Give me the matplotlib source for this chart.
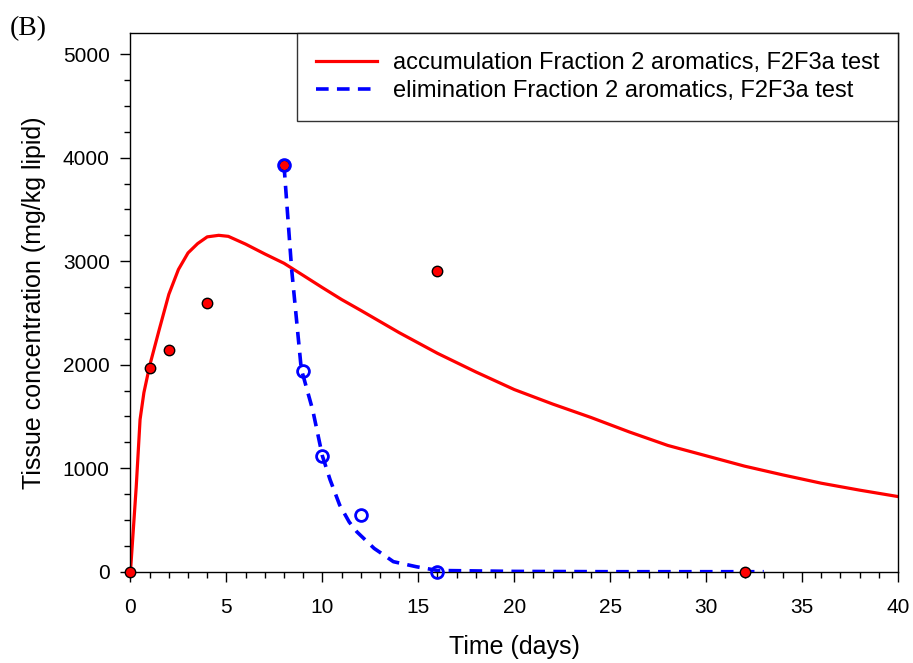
import matplotlib
matplotlib.use("Agg")
import matplotlib.pyplot as plt
from matplotlib.ticker import MultipleLocator

plt.rcParams['font.family'] = ['Liberation Sans', 'DejaVu Sans']

# measured tissue concentrations (mg/kg lipid)
acc_days = [0, 1, 2, 4, 8, 16, 32]
acc_conc = [0, 1970, 2140, 2600, 3930, 2910, 0]
elim_days = [8, 9, 10, 12, 16]
elim_conc = [3930, 1940, 1120, 545, 0]

# fitted model curves
acc_fit_t = [0, 0.3, 0.5, 0.7, 1.0, 1.5, 2.0, 2.5, 3.0, 3.5, 4.0, 4.6, 5.1, 6, 7, 8, 9,
             10, 11, 12, 14, 16, 18, 20, 22, 24, 26, 28, 30, 32, 34, 36, 38, 40]
acc_fit_c = [0, 820, 1470, 1730, 1990, 2340, 2680, 2920, 3080, 3170, 3235, 3250, 3240,
             3165, 3070, 2980, 2863, 2745, 2630, 2525, 2310, 2110, 1930, 1760, 1620,
             1490, 1350, 1220, 1120, 1020, 935, 855, 788, 726]
elim_fit_t = [8.0, 8.4, 8.9, 9.5, 10.0, 10.4, 10.9, 11.4, 11.8, 12.7, 13.2, 13.7, 14.9,
              16, 20, 25, 30, 33]
elim_fit_c = [3930, 2920, 1960, 1560, 1120, 890, 645, 480, 385, 225, 162, 97, 48,
              12, 3, 0, 0, 0]

acc_label = "accumulation Fraction 2 aromatics, F2F3a test"
elim_label = "elimination Fraction 2 aromatics, F2F3a test"

fig = plt.figure(figsize=(9.13, 6.63), dpi=100)
ax = fig.add_axes([0.1429, 0.1377, 0.8407, 0.8118])

ax.plot(acc_fit_t, acc_fit_c, color='red', lw=2.3, zorder=2, label=acc_label)
ax.plot(elim_fit_t, elim_fit_c, color='blue', lw=2.6, dashes=(3.5, 2.3),
        zorder=3, label=elim_label)
ax.plot(acc_days, acc_conc, 'o', ms=7.5, mfc='red', mec='black', mew=1.0,
        zorder=4, clip_on=False)
ax.plot(elim_days, elim_conc, 'o', ms=8.5, mfc='none', mec='blue', mew=2.0,
        zorder=5, clip_on=False)

ax.set_xlim(0, 40)
ax.set_ylim(0, 5200)
ax.xaxis.set_major_locator(MultipleLocator(5))
ax.xaxis.set_minor_locator(MultipleLocator(1))
ax.yaxis.set_major_locator(MultipleLocator(1000))
ax.yaxis.set_minor_locator(MultipleLocator(250))
ax.tick_params(which='major', direction='out', length=7, width=1, labelsize=15)
ax.tick_params(which='minor', direction='out', length=4, width=1)
ax.tick_params(axis='x', pad=12)
ax.tick_params(axis='y', pad=8)
for s in ax.spines.values():
    s.set_linewidth(1.0)

ax.set_xlabel("Time (days)", fontsize=18, labelpad=13)
ax.set_ylabel("Tissue concentration (mg/kg lipid)", fontsize=18, labelpad=12)

leg = ax.legend(loc='upper right', bbox_to_anchor=(1.0, 1.0), borderaxespad=0,
                fontsize=17, frameon=True, fancybox=False, handlelength=2.6,
                handletextpad=0.65, borderpad=0.8, labelspacing=0.25)
leg.get_frame().set_edgecolor('black')
leg.get_frame().set_linewidth(1.0)

fig.text(10 / 913, 1 - 35 / 663, "(B)", family='Liberation Serif', fontsize=20,
         va='baseline', ha='left')

fig.savefig("out.png", dpi=100)
